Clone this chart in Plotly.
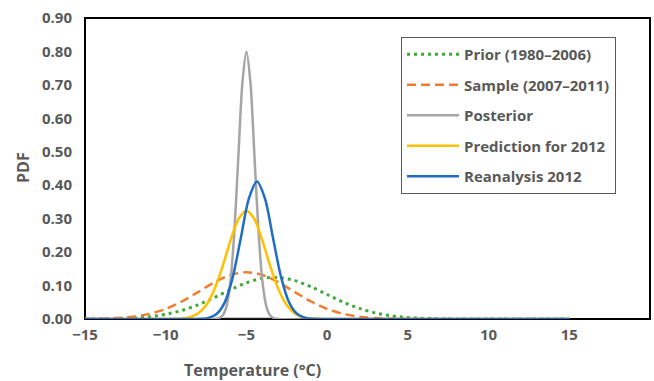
import plotly.graph_objects as go

# ---- data ----
prior_x = [-15, -14, -13, -12, -11, -10, -9, -8, -7, -6, -5, -4, -3, -2, -1, 0, 1, 2, 3, 4, 5, 6, 7, 8, 9, 10, 11, 12, 13, 14, 15]
prior_y = [0.0002, 0.0005, 0.0013, 0.0031, 0.0069, 0.0140, 0.0255, 0.0424, 0.0639, 0.0873, 0.1083, 0.1217, 0.1241,
           0.1148, 0.0963, 0.0733, 0.0505, 0.0316, 0.0180, 0.0092, 0.0043, 0.0018, 0.0007, 0.0002, 0, 0, 0, 0, 0, 0, 0]

sample_x = [-15, -14, -13, -12, -11, -10, -9, -8, -7, -6, -5, -4, -3, -2, -1, 0, 1, 2, 3, 4, 5, 6, 7, 8, 9, 10, 11, 12, 13, 14, 15]
sample_y = [0.0003, 0.0010, 0.0027, 0.0069, 0.0153, 0.0300, 0.0523, 0.0805, 0.1094, 0.1316, 0.1400, 0.1316, 0.1094,
            0.0805, 0.0523, 0.0300, 0.0153, 0.0069, 0.0027, 0.0010, 0.0003, 0, 0, 0, 0, 0, 0, 0, 0, 0, 0]

posterior_x = [-15, -7.0, -6.75, -6.5, -6.25, -6.0, -5.75, -5.5, -5.25, -5.0, -4.75, -4.5, -4.25, -4.0, -3.75, -3.5, -3.25, -3.0, 15]
posterior_y = [0, 0.0003, 0.0018, 0.0089, 0.0351, 0.1083, 0.2598, 0.4852, 0.7060, 0.8000, 0.7060, 0.4852, 0.2598,
               0.1083, 0.0351, 0.0089, 0.0018, 0.0003, 0]

prediction_x = [-15, -10.0, -9.5, -9.0, -8.5, -8.0, -7.5, -7.0, -6.5, -6.0, -5.5, -5.0, -4.5, -4.0, -3.5, -3.0, -2.5, -2.0, -1.5, -1.0, -0.5, 0.0, 15]
prediction_y = [0, 0.0001, 0.0004, 0.0016, 0.0057, 0.0166, 0.0411, 0.0864, 0.1540, 0.2328, 0.2983, 0.3240, 0.2983,
                0.2328, 0.1540, 0.0864, 0.0411, 0.0166, 0.0057, 0.0016, 0.0004, 0.0001, 0]

reanalysis_x = [-15, -8.35, -7.85, -7.35, -6.85, -6.35, -5.85, -5.35, -4.85, -4.35, -3.85, -3.35, -2.85, -2.35, -1.85, -1.35, -0.85, -0.35, 15]
reanalysis_y = [0, 0.0001, 0.0006, 0.0034, 0.0148, 0.0490, 0.1243, 0.2415, 0.3599, 0.4110, 0.3599, 0.2415, 0.1243,
                0.0490, 0.0148, 0.0034, 0.0006, 0.0001, 0]

base_x = [-6.4, -3.5]
base_y = [0, 0]

names = ["Prior (1980–2006)", "Sample (2007–2011)", "Posterior", "Prediction for 2012", "Reanalysis 2012"]
x_ticks = [-15, -10, -5, 0, 5, 10, 15, 20]
y_ticks = [0.0, 0.1, 0.2, 0.3, 0.4, 0.5, 0.6, 0.7, 0.8, 0.9]

FONT = "Open Sans"
TXT = "#595959"
L, R, T, B = 85, 4, 18, 62
PW, PH = 654 - L - R, 381 - T - B

fig = go.Figure()
series = [
    (prior_x, prior_y, "#3DAA35", "3px,4px", 3),
    (sample_x, sample_y, "#F47B2C", "9px,5px", 2.5),
    (posterior_x, posterior_y, "#A5A5A5", "solid", 2.5),
    (prediction_x, prediction_y, "#FFC000", "solid", 2.5),
    (reanalysis_x, reanalysis_y, "#1F6EC4", "solid", 2.5),
]
for i, (xs, ys, col, dash, w) in enumerate(series):
    fig.add_trace(go.Scatter(x=xs, y=ys, mode="lines", name=names[i], legendgroup=str(i),
                             line=dict(color=col, width=w, dash=dash, shape="spline", smoothing=0.8)))
fig.add_trace(go.Scatter(x=base_x, y=base_y, mode="lines", showlegend=False, hoverinfo="skip",
                         line=dict(color="#222222", width=2.5)))

fig.update_layout(
    width=654, height=381,
    margin=dict(l=L, r=R, t=T, b=B),
    paper_bgcolor="white", plot_bgcolor="rgba(0,0,0,0)",
    font=dict(family=FONT, color=TXT, size=15),
    showlegend=True,
    legend=dict(x=(401 - L) / PW, y=(381 - B - 37) / PH, xanchor="left", yanchor="top",
                bordercolor="#595959", borderwidth=1, bgcolor="white",
                font=dict(family=FONT, size=15, color=TXT, weight="bold"),
                tracegroupgap=8, traceorder="grouped", itemwidth=52),
    xaxis=dict(range=[-15, 20], tickvals=x_ticks, showgrid=False, zeroline=False,
               showline=False, ticks="", ticklabelstandoff=5,
               tickfont=dict(family=FONT, size=15, color=TXT, weight="bold")),
    yaxis=dict(range=[0, 0.9], tickvals=y_ticks, tickformat=".2f", showgrid=False, zeroline=False,
               showline=False, ticks="", ticklabelstandoff=12,
               tickfont=dict(family=FONT, size=15, color=TXT, weight="bold")),
    shapes=[dict(type="rect", xref="paper", yref="paper", x0=0, x1=1, y0=0, y1=1,
                 line=dict(color="black", width=2), layer="below")],
    annotations=[
        dict(text="Temperature (°C)", xref="paper", yref="paper", x=(252 - L) / PW, y=-(370 - (381 - B)) / PH,
             xanchor="center", yanchor="middle", showarrow=False,
             font=dict(family=FONT, size=16, color=TXT, weight="bold")),
        dict(text="PDF", xref="paper", yref="paper", x=-(L - 23) / PW, y=(381 - B - 168) / PH,
             xanchor="center", yanchor="middle", showarrow=False, textangle=-90,
             font=dict(family=FONT, size=16, color=TXT, weight="bold")),
    ],
)

fig.write_html("out.html", config={"displayModeBar": False},
               post_script="document.body.style.margin='0px';")
